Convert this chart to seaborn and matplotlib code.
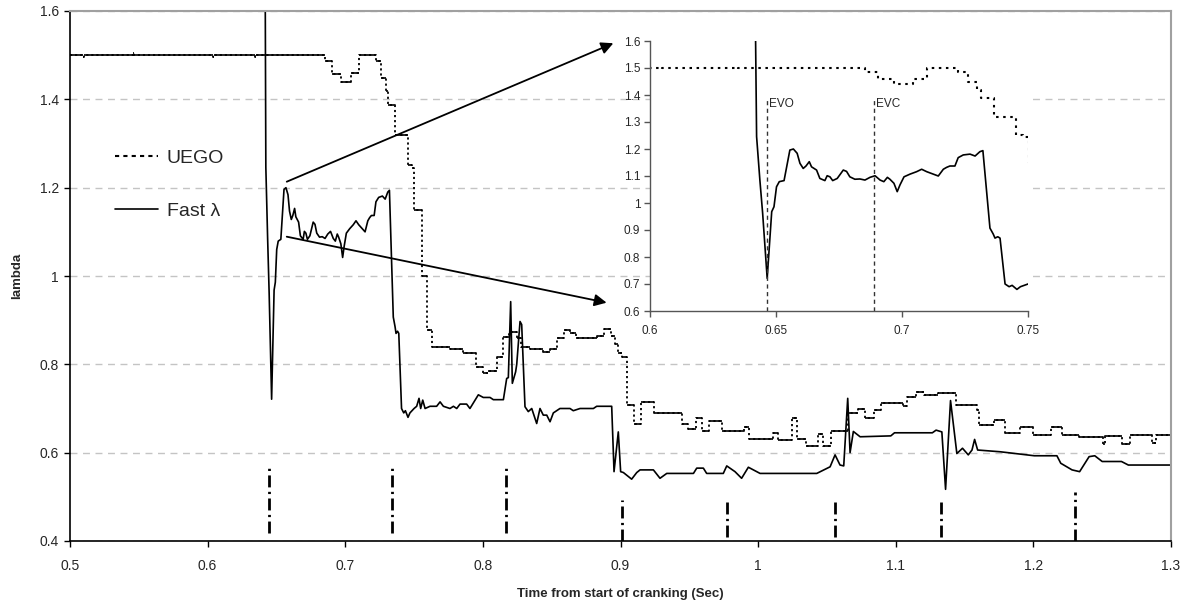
import matplotlib
matplotlib.use("Agg")
import matplotlib.pyplot as plt
import pandas as pd
import seaborn as sns
from matplotlib.lines import Line2D
from matplotlib.ticker import FormatStrFormatter

# Fast lambda trace (sec, lambda)
fast_t = [0.6410, 0.6419, 0.6423, 0.6436, 0.6447, 0.6465, 0.6483, 0.6492, 0.6502, 0.6513,
          0.6532, 0.6545, 0.6555, 0.6569, 0.6584, 0.6595, 0.6608, 0.6619, 0.6632, 0.6641,
          0.6661, 0.6674, 0.6694, 0.6703, 0.6714, 0.6725, 0.6743, 0.6767, 0.6780, 0.6793,
          0.6813, 0.6833, 0.6853, 0.6873, 0.6893, 0.6913, 0.6928, 0.6942, 0.6952, 0.6968,
          0.6981, 0.6992, 0.7008, 0.7032, 0.7058, 0.7078, 0.7098, 0.7124, 0.7144, 0.7164,
          0.7177, 0.7190, 0.7210, 0.7223, 0.7243, 0.7270, 0.7290, 0.7309, 0.7321, 0.7335,
          0.7349, 0.7362, 0.7369, 0.7380, 0.7389, 0.7409, 0.7425, 0.7437, 0.7456, 0.7470,
          0.7500, 0.7519, 0.7536, 0.7548, 0.7563, 0.7580, 0.7616, 0.7664, 0.7689, 0.7713,
          0.7761, 0.7786, 0.7810, 0.7834, 0.7882, 0.7906, 0.7967, 0.8003, 0.8052, 0.8076,
          0.8149, 0.8173, 0.8185, 0.8202, 0.8214, 0.8238, 0.8246, 0.8270, 0.8282, 0.8306,
          0.8330, 0.8355, 0.8391, 0.8415, 0.8439, 0.8464, 0.8488, 0.8512, 0.8560, 0.8633,
          0.8657, 0.8706, 0.8803, 0.8827, 0.8936, 0.8953, 0.8984, 0.9001, 0.9021, 0.9081,
          0.9118, 0.9142, 0.9239, 0.9287, 0.9336, 0.9530, 0.9554, 0.9602, 0.9626, 0.9747,
          0.9772, 0.9832, 0.9880, 0.9929, 1.0014, 1.0426, 1.0523, 1.0559, 1.0595, 1.0622,
          1.0651, 1.0668, 1.0692, 1.0741, 1.0964, 1.0991, 1.1266, 1.1293, 1.1335, 1.1362,
          1.1398, 1.1444, 1.1485, 1.1527, 1.1554, 1.1573, 1.1595, 1.1760, 1.1870, 1.2007,
          1.2171, 1.2199, 1.2281, 1.2336, 1.2405, 1.2446, 1.2500, 1.2640, 1.2690, 1.3000]
fast_v = [1.750, 1.604, 1.246, 1.085, 0.962, 0.721, 0.968, 0.986, 1.060, 1.079,
          1.083, 1.147, 1.196, 1.200, 1.184, 1.147, 1.128, 1.137, 1.153, 1.134,
          1.122, 1.091, 1.083, 1.101, 1.097, 1.083, 1.091, 1.122, 1.117, 1.097,
          1.088, 1.089, 1.085, 1.095, 1.101, 1.085, 1.079, 1.095, 1.088, 1.073,
          1.042, 1.067, 1.097, 1.107, 1.116, 1.125, 1.116, 1.107, 1.100, 1.125,
          1.132, 1.137, 1.137, 1.168, 1.178, 1.181, 1.174, 1.190, 1.194, 1.050,
          0.907, 0.885, 0.870, 0.875, 0.870, 0.700, 0.690, 0.695, 0.680, 0.690,
          0.700, 0.705, 0.723, 0.700, 0.719, 0.700, 0.705, 0.705, 0.715, 0.705,
          0.700, 0.705, 0.700, 0.710, 0.710, 0.700, 0.731, 0.725, 0.725, 0.720,
          0.720, 0.768, 0.770, 0.942, 0.757, 0.783, 0.800, 0.897, 0.890, 0.704,
          0.693, 0.700, 0.666, 0.700, 0.685, 0.685, 0.670, 0.690, 0.700, 0.700,
          0.695, 0.700, 0.700, 0.705, 0.705, 0.557, 0.647, 0.557, 0.555, 0.540,
          0.555, 0.561, 0.561, 0.542, 0.553, 0.553, 0.565, 0.565, 0.553, 0.553,
          0.570, 0.557, 0.542, 0.567, 0.553, 0.553, 0.568, 0.595, 0.572, 0.570,
          0.723, 0.600, 0.648, 0.636, 0.638, 0.645, 0.645, 0.651, 0.647, 0.517,
          0.718, 0.598, 0.610, 0.595, 0.606, 0.630, 0.606, 0.602, 0.598, 0.593,
          0.593, 0.576, 0.561, 0.557, 0.591, 0.593, 0.580, 0.580, 0.572, 0.572]

# UEGO trace, stepwise (start of each step)
uego_t = [0.5000, 0.5094, 0.5102, 0.5459, 0.5467, 0.6039, 0.6047, 0.6341, 0.6349,
          0.6853, 0.6906, 0.6968, 0.7045, 0.7100, 0.7222, 0.7260, 0.7298, 0.7314,
          0.7365, 0.7453, 0.7482, 0.7502, 0.7555, 0.7592, 0.7630, 0.7761, 0.7858,
          0.7950, 0.8003, 0.8035, 0.8100, 0.8143, 0.8190, 0.8246, 0.8280, 0.8343,
          0.8439, 0.8488, 0.8540, 0.8591, 0.8633, 0.8680, 0.8830, 0.8882, 0.8930,
          0.8960, 0.8980, 0.9010, 0.9045, 0.9100, 0.9148, 0.9245, 0.9445, 0.9490,
          0.9550, 0.9595, 0.9645, 0.9740, 0.9895, 0.9935, 1.0105, 1.0141, 1.0244,
          1.0286, 1.0347, 1.0432, 1.0468, 1.0529, 1.0650, 1.0723, 1.0777, 1.0844,
          1.0892, 1.1050, 1.1085, 1.1150, 1.1205, 1.1310, 1.1440, 1.1590, 1.1605,
          1.1712, 1.1795, 1.1905, 1.2000, 1.2125, 1.2206, 1.2330, 1.2508, 1.2522,
          1.2645, 1.2700, 1.2865, 1.2890, 1.3000]
uego_v = [1.500, 1.496, 1.500, 1.505, 1.500, 1.496, 1.500, 1.496, 1.500,
          1.486, 1.458, 1.440, 1.460, 1.500, 1.486, 1.449, 1.418, 1.388,
          1.320, 1.252, 1.245, 1.150, 1.000, 0.878, 0.840, 0.835, 0.825,
          0.795, 0.780, 0.785, 0.817, 0.863, 0.874, 0.860, 0.840, 0.835,
          0.829, 0.835, 0.860, 0.878, 0.870, 0.859, 0.865, 0.881, 0.865,
          0.845, 0.825, 0.816, 0.708, 0.666, 0.715, 0.690, 0.666, 0.653,
          0.678, 0.650, 0.672, 0.648, 0.659, 0.632, 0.644, 0.629, 0.678,
          0.632, 0.614, 0.642, 0.614, 0.650, 0.689, 0.700, 0.678, 0.697,
          0.712, 0.705, 0.727, 0.738, 0.731, 0.734, 0.708, 0.697, 0.663,
          0.674, 0.644, 0.659, 0.640, 0.659, 0.640, 0.636, 0.620, 0.638,
          0.620, 0.640, 0.621, 0.640, 0.640]

# cycle markers (dash-dot bars near the bottom)
marker_t = [0.6446, 0.7337, 0.8168, 0.9008, 0.9777, 1.0556, 1.1327, 1.2300]
marker_lo = [0.418, 0.418, 0.418, 0.400, 0.410, 0.410, 0.410, 0.400]
marker_hi = [0.565, 0.565, 0.565, 0.493, 0.493, 0.493, 0.493, 0.510]

valve_t = [0.6465, 0.6890]
valve_labels = ["EVO", "EVC"]
series_labels = ["UEGO", "Fast λ"]

x_ticks = [0.5, 0.6, 0.7, 0.8, 0.9, 1.0, 1.1, 1.2, 1.3]
y_ticks = [0.4, 0.6, 0.8, 1.0, 1.2, 1.4, 1.6]
inset_x_ticks = [0.6, 0.65, 0.7, 0.75]
inset_y_ticks = [0.6, 0.7, 0.8, 0.9, 1.0, 1.1, 1.2, 1.3, 1.4, 1.5, 1.6]

sns.set_theme(style="white")
plt.rcParams["font.family"] = ["Liberation Sans", "DejaVu Sans"]

fast = pd.DataFrame({"t": fast_t, "v": fast_v})
uego = pd.DataFrame({"t": uego_t, "v": uego_v})

fig = plt.figure(figsize=(11.92, 6.05), dpi=100)
ax = fig.add_axes([70 / 1192, 64 / 605, 1101 / 1192, 530 / 605])

# UEGO: flat parts solid, step edges dotted (Excel-like look)
sns.lineplot(data=uego, x="t", y="v", ax=ax, estimator=None, sort=False,
             drawstyle="steps-post", color="black", linewidth=1.3)
ax.lines[-1].set_linestyle((0, (1.2, 1.6)))
ax.hlines(uego_v[:-1], uego_t[:-1], uego_t[1:], color="black", linewidth=1.2)

sns.lineplot(data=fast, x="t", y="v", ax=ax, estimator=None, sort=False,
             color="black", linewidth=1.2)

ax.vlines(marker_t, marker_lo, marker_hi, color="black", linewidth=2.0,
          linestyles=[(0, (4.3, 1.6, 0.8, 1.6))])

ax.set_xlim(0.5, 1.3)
ax.set_ylim(0.4, 1.6)
ax.set_xticks(x_ticks)
ax.set_yticks(y_ticks)
ax.xaxis.set_major_formatter(FormatStrFormatter("%g"))
ax.yaxis.set_major_formatter(FormatStrFormatter("%g"))
ax.tick_params(axis="both", direction="out", length=4, width=1, color="black",
               labelsize=10, pad=4, bottom=True, left=True)
ax.tick_params(axis="x", pad=9)
ax.set_xlabel("Time from start of cranking (Sec)", fontsize=9.5, fontweight="bold", labelpad=11)
ax.set_ylabel("lambda", fontsize=9.5, fontweight="bold", labelpad=12)

ax.set_axisbelow(True)
ax.yaxis.grid(True, color="#c4c4c4", linestyle=(0, (5, 4)), linewidth=1)
ax.xaxis.grid(False)
for side in ["left", "bottom"]:
    ax.spines[side].set_color("black")
    ax.spines[side].set_linewidth(1.2)
for side in ["top", "right"]:
    ax.spines[side].set_color("#a0a0a0")
    ax.spines[side].set_linewidth(1.5)

handles = [Line2D([], [], color="black", linewidth=1.5, linestyle=(0, (2, 2))),
           Line2D([], [], color="black", linewidth=1.2)]
ax.legend(handles, series_labels, loc="upper left", bbox_to_anchor=(0.041, 0.739),
          frameon=False, fontsize=14, handlelength=2.2, handletextpad=0.45,
          labelspacing=1.8, borderpad=0, borderaxespad=0)

arrow = dict(arrowstyle="-|>", color="black", lw=1.3, mutation_scale=18, shrinkA=0, shrinkB=0)
ax.annotate("", xy=(0.8948, 1.527), xytext=(0.6575, 1.2135), arrowprops=arrow)
ax.annotate("", xy=(0.8899, 0.9396), xytext=(0.6575, 1.089), arrowprops=arrow)

# zoomed inset
axi = fig.add_axes([650 / 1192, 294 / 605, 378 / 1192, 270 / 605])
axi.set_facecolor("white")
sns.lineplot(data=uego, x="t", y="v", ax=axi, estimator=None, sort=False,
             drawstyle="steps-post", color="black", linewidth=1.5)
axi.lines[-1].set_linestyle((0, (1.2, 2.2)))
sns.lineplot(data=fast, x="t", y="v", ax=axi, estimator=None, sort=False,
             color="black", linewidth=1.2)
axi.vlines(valve_t, 0.6, 1.38, color="#333333", linewidth=1.0, linestyles=[(0, (3, 2.5))])
for t, lab in zip(valve_t, valve_labels):
    axi.text(t + 0.0006, 1.365, lab, fontsize=8.5, va="center", ha="left")

axi.set_xlim(0.6, 0.75)
axi.set_ylim(0.6, 1.6)
axi.set_xticks(inset_x_ticks)
axi.set_yticks(inset_y_ticks)
axi.xaxis.set_major_formatter(FormatStrFormatter("%g"))
axi.yaxis.set_major_formatter(FormatStrFormatter("%g"))
axi.tick_params(axis="both", direction="out", length=4, width=1, color="#555555",
                labelsize=8.5, pad=3, bottom=True, left=True)
axi.tick_params(axis="x", pad=6)
axi.set_xlabel("")
axi.set_ylabel("")
axi.grid(False)
for side in ["top", "right"]:
    axi.spines[side].set_visible(False)
for side in ["left", "bottom"]:
    axi.spines[side].set_color("#555555")
    axi.spines[side].set_linewidth(1.0)

fig.savefig("out.png", dpi=100)
plt.close(fig)
